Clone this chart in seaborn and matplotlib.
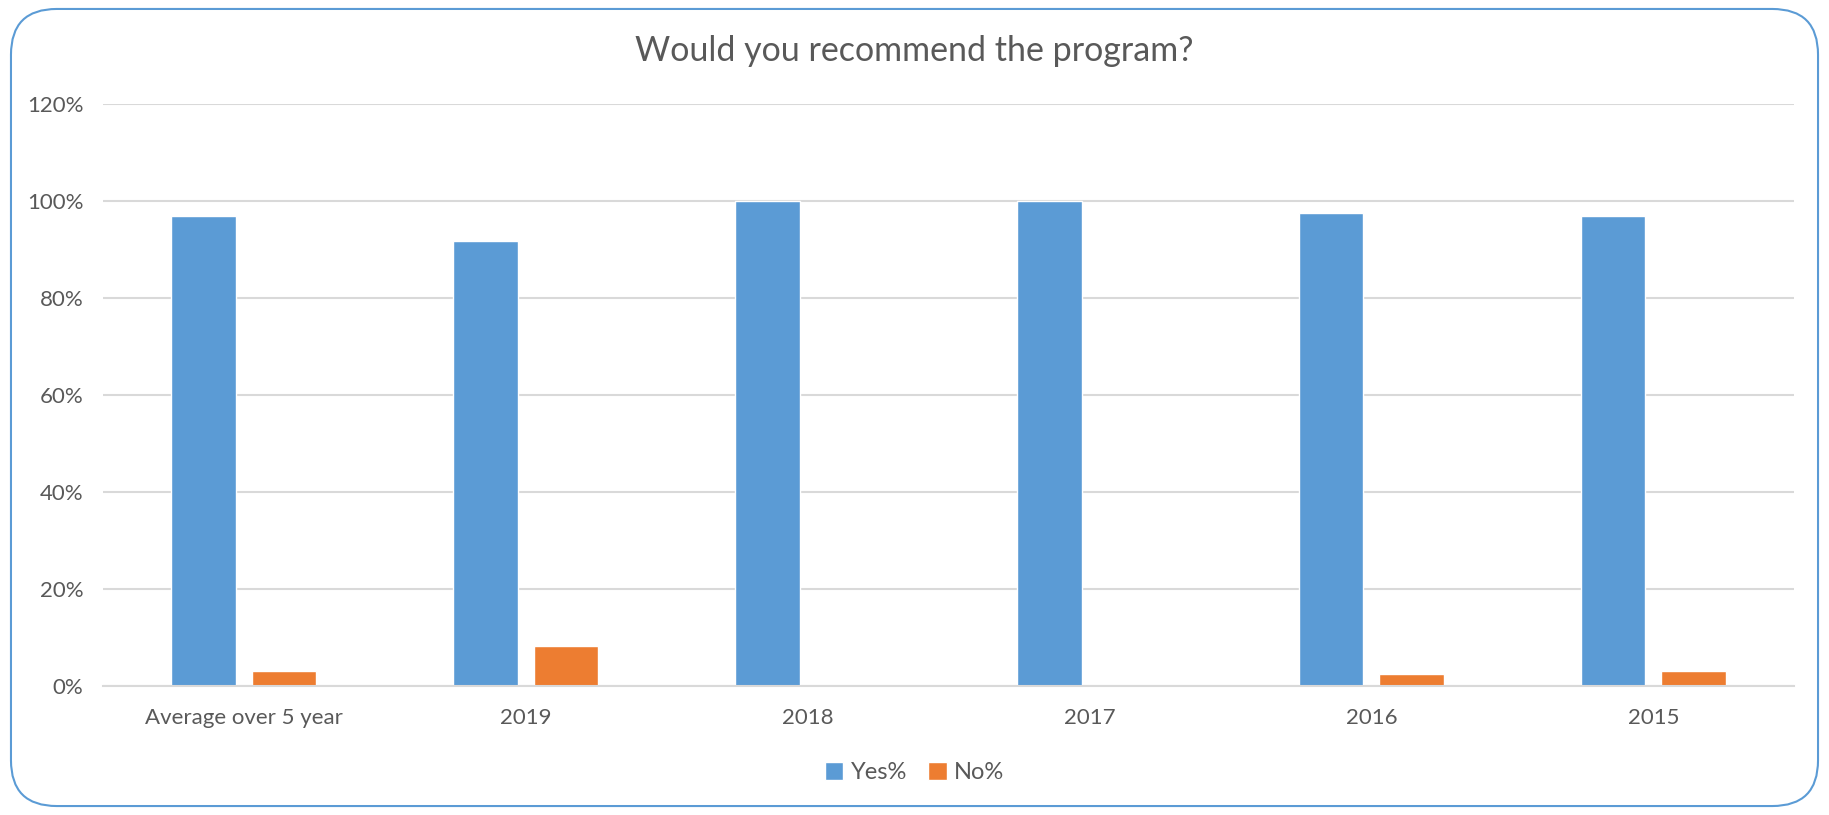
import pandas as pd
import numpy as np
import seaborn as sns
import matplotlib.pyplot as plt
from matplotlib.patches import FancyBboxPatch
from matplotlib.ticker import PercentFormatter

categories = ["Average over 5 year", "2019", "2018", "2017", "2016", "2015"]
yes_pct = [0.970, 0.917, 1.000, 1.000, 0.976, 0.970]
no_pct = [0.030, 0.083, 0.000, 0.000, 0.024, 0.030]
series = ["Yes%", "No%"]
colors = ["#5B9BD5", "#ED7D31"]

df = pd.DataFrame({
    "category": categories * 2,
    "value": yes_pct + no_pct,
    "series": [series[0]] * len(categories) + [series[1]] * len(categories),
})

sns.set_theme(style="white")
plt.rcParams['font.family'] = ['Lato', 'DejaVu Sans']
text_color = "#595959"
grid_color = "#D9D9D9"

fig = plt.figure(figsize=(18.29, 8.15), dpi=100)
ax = fig.add_axes([0.0563, 0.1583, 0.9247, 0.7141])

sns.barplot(data=df, x="category", y="value", hue="series", order=categories,
            hue_order=series, palette=colors, width=0.571, gap=0.2,
            saturation=1, ax=ax, legend=True)

ax.set_ylim(0, 1.2)
ax.set_yticks(np.arange(0, 1.21, 0.2))
ax.yaxis.set_major_formatter(PercentFormatter(1.0, decimals=0))
ax.set_xlim(-0.5, len(categories) - 0.5)
ax.grid(axis="y", color=grid_color, linewidth=1.5)
ax.set_axisbelow(True)
for s in ["top", "right", "left"]:
    ax.spines[s].set_visible(False)
ax.spines["bottom"].set_color(grid_color)
ax.spines["bottom"].set_linewidth(1.5)
ax.tick_params(axis="both", length=0, labelsize=16, labelcolor=text_color)
ax.tick_params(axis="y", pad=14)
ax.tick_params(axis="x", pad=16)
ax.set_xlabel("")
ax.set_ylabel("")

fig.text(0.5, 0.937, "Would you recommend the program?", ha="center", va="center",
         fontsize=24.5, color=text_color)

handles, labels = ax.get_legend_handles_labels()
ax.legend_.remove()
fig.legend(handles, labels, loc="center", bbox_to_anchor=(0.5, 0.052), ncol=2,
           frameon=False, fontsize=17, labelcolor=text_color,
           handlelength=0.8, handleheight=0.8, handletextpad=0.3, columnspacing=0.9)

border = FancyBboxPatch((0.006, 0.011), 0.988, 0.978,
                        boxstyle="round,pad=0,rounding_size=0.025",
                        transform=fig.transFigure, fill=False,
                        edgecolor="#5B9BD5", linewidth=1.5, mutation_aspect=1829 / 815)
fig.patches.append(border)

fig.savefig("out.png", dpi=100, facecolor="white")
